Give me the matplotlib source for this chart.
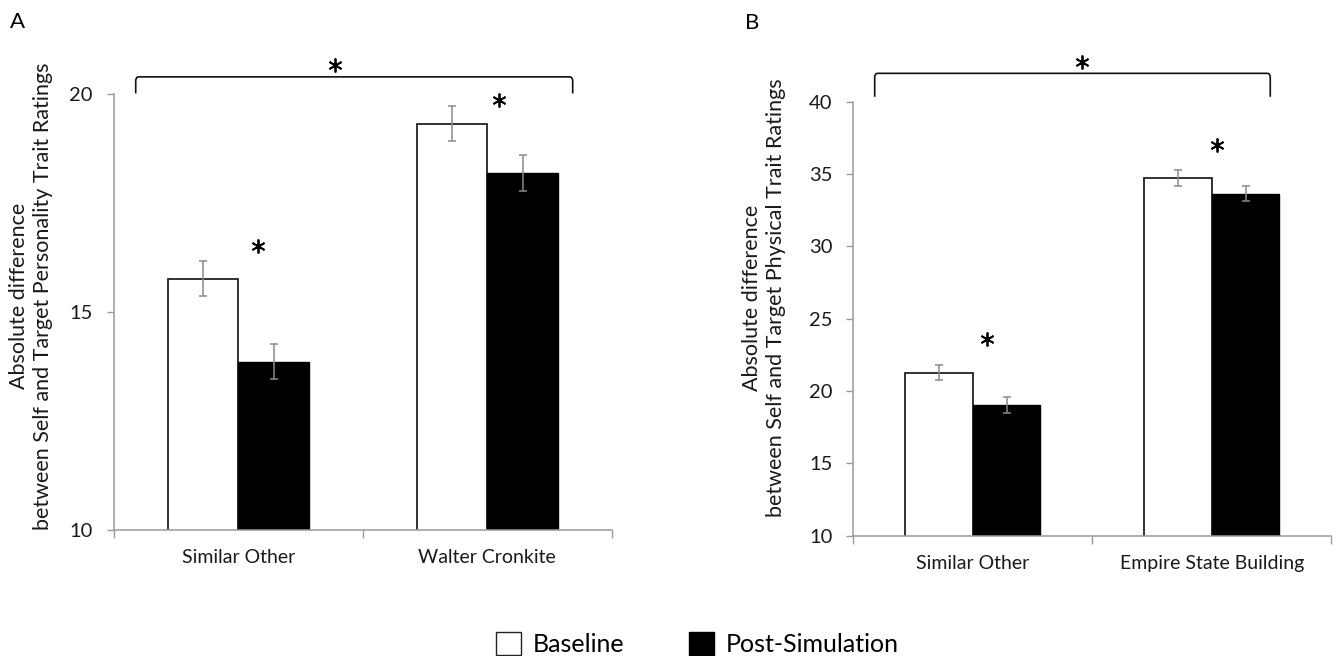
import matplotlib
matplotlib.use("Agg")
import matplotlib.pyplot as plt
from matplotlib.patches import Patch, PathPatch
from matplotlib.path import Path
import numpy as np

plt.rcParams['font.family'] = ['Lato', 'DejaVu Sans']

# Panel A data
cats_a = ["Similar Other", "Walter Cronkite"]
base_a = [15.77, 19.32]
base_a_err = [0.41, 0.40]
post_a = [13.86, 18.19]
post_a_err = [0.40, 0.41]
yticks_a = [10, 15, 20]
ylabel_a = "Absolute difference\nbetween Self and Target Personality Trait Ratings"

# Panel B data
cats_b = ["Similar Other", "Empire State Building"]
base_b = [21.26, 34.74]
base_b_err = [0.52, 0.55]
post_b = [19.03, 33.64]
post_b_err = [0.54, 0.52]
yticks_b = [10, 15, 20, 25, 30, 35, 40]
ylabel_b = "Absolute difference\nbetween Self and Target Physical Trait Ratings"

legend_labels = ["Baseline", "Post-Simulation"]

W, H = 1336, 656
fig = plt.figure(figsize=(W / 100, H / 100), dpi=100)

SPINE = "#9a9a9a"
ERR = "#8a8a8a"
TXT = "#1a1a1a"
bw = 0.2835


def bracket(ax, x0, x1, ytop, yend, rx, ry):
    verts = [(x0, yend), (x0, ytop - ry), (x0, ytop), (x0 + rx, ytop),
             (x1 - rx, ytop), (x1, ytop), (x1, ytop - ry), (x1, yend)]
    codes = [Path.MOVETO, Path.LINETO, Path.CURVE3, Path.CURVE3,
             Path.LINETO, Path.CURVE3, Path.CURVE3, Path.LINETO]
    ax.add_patch(PathPatch(Path(verts, codes), fill=False, edgecolor="#111111",
                           lw=1.2, clip_on=False))


def panel(rect, cats, base, berr, post, perr, yticks, ylabel, label_xy,
          letter, letter_xy, br, stars):
    ax = fig.add_axes(rect)
    x = np.arange(len(cats))
    ax.bar(x - bw / 2, base, bw, color="white", edgecolor="#222222",
           linewidth=1.3, zorder=2)
    ax.bar(x + bw / 2, post, bw, color="black", edgecolor="black",
           linewidth=1.0, zorder=2)
    ax.errorbar(x - bw / 2, base, yerr=berr, fmt="none", ecolor=ERR,
                elinewidth=1.1, capsize=2.6, capthick=1.1, zorder=3)
    ax.errorbar(x + bw / 2, post, yerr=perr, fmt="none", ecolor=ERR,
                elinewidth=1.1, capsize=2.6, capthick=1.1, zorder=3)
    ax.set_xlim(-0.5, len(cats) - 0.5)
    ax.set_ylim(yticks[0], yticks[-1])
    ax.set_yticks(yticks)
    ax.set_yticklabels([str(t) for t in yticks], fontsize=14.5, color=TXT)
    ax.set_xticks(x)
    ax.set_xticklabels(cats, fontsize=14, color=TXT)
    ax.set_xticks(np.arange(len(cats) + 1) - 0.5, minor=True)
    ax.tick_params(axis="x", which="major", length=0, pad=14)
    ax.tick_params(axis="x", which="minor", length=6, width=1.0, color=SPINE,
                   direction="out")
    ax.tick_params(axis="y", length=5, width=1.0, color=SPINE, direction="out",
                   pad=10)
    for s in ["top", "right"]:
        ax.spines[s].set_visible(False)
    for s in ["left", "bottom"]:
        ax.spines[s].set_color(SPINE)
        ax.spines[s].set_linewidth(1.1)
    fig.text(label_xy[0] / W, 1 - label_xy[1] / H, ylabel, rotation=90,
             ha="center", va="center", fontsize=15.5, color=TXT,
             multialignment="center", linespacing=1.2)
    fig.text(letter_xy[0] / W, 1 - letter_xy[1] / H, letter, fontsize=16,
             ha="left", va="center", color="black")
    bracket(ax, *br)
    sx = [s[0] for s in stars]
    sy = [s[1] for s in stars]
    ax.plot(sx, sy, linestyle="none", marker=(6, 2, 0), markersize=10,
            markeredgewidth=1.3, color="black", clip_on=False)
    return ax


axA = panel([113.8 / W, 1 - 530 / H, 498 / W, 435.7 / H], cats_a, base_a,
            base_a_err, post_a, post_a_err, yticks_a, ylabel_a, (31, 296),
            "A", (10, 22),
            (-0.412, 1.343, 20.40, 20.02, 0.012, 0.1),
            [(0.388, 20.67), (0.080, 16.52), (1.048, 19.86)])
axB = panel([853.2 / W, 1 - 535.7 / H, 478 / W, 434 / H], cats_b, base_b,
            base_b_err, post_b, post_b_err, yticks_b, ylabel_b, (764, 298),
            "B", (745, 23),
            (-0.41, 1.245, 41.96, 40.34, 0.012, 0.3),
            [(0.456, 42.76), (0.059, 23.57), (1.021, 37.0)])

handles = [Patch(facecolor="white", edgecolor="#222222", linewidth=1.0),
           Patch(facecolor="black", edgecolor="black", linewidth=1.0)]
fig.legend(handles, legend_labels, loc="center", bbox_to_anchor=(0.522, 1 - 644 / H),
           ncol=2, frameon=False, fontsize=18, handlelength=1.0, handleheight=1.0,
           handletextpad=0.45, columnspacing=2.6, borderpad=0)

fig.savefig("out.png", dpi=100)
